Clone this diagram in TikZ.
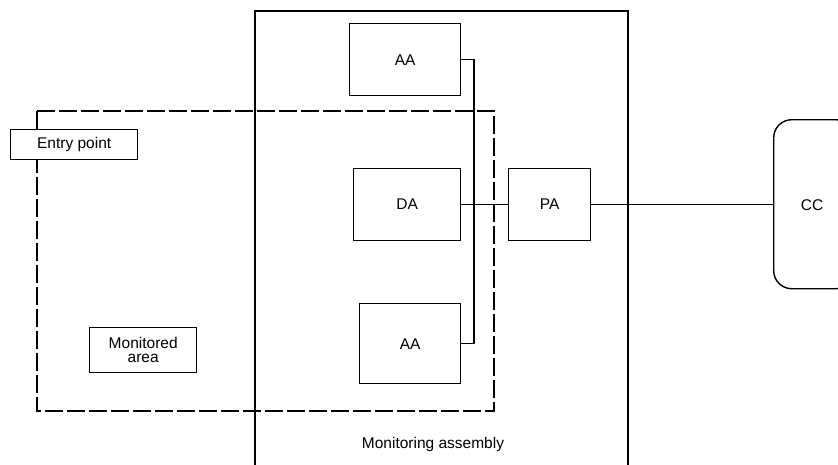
\documentclass[tikz,border=0pt]{standalone}
\usepackage{fontspec}
\setmainfont{Liberation Sans}
\begin{document}
\begin{tikzpicture}[x=1pt,y=-1pt,
  line width=1.4pt,
  txt/.style={font=\fontsize{15.5}{15.5}\selectfont},
  unit/.style={draw, rectangle, inner sep=0pt, txt},
  wire/.style={line width=1.4pt},
  zone/.style={line width=1.4pt, dash pattern=on 18pt off 4pt}]
  \clip (0,0) rectangle (838,464);
  \fill[white] (0,0) rectangle (838,464);

  % monitored zone (dashed)
  \draw[zone] (37,111) rectangle (494,411);

  % monitoring assembly, open at the bottom
  \draw (255,470) -- (255,11) -- (628,11) -- (628,470);
  \node[txt] (ma) at (433,444) {Monitoring assembly};

  % units
  \node[unit, fill=white, minimum width=127pt, minimum height=30pt, anchor=north west] (entry) at (10,129) {Entry point};
  \node[unit, minimum width=107pt, minimum height=45pt, align=center, anchor=north west, font=\fontsize{15.5}{14.5}\selectfont] (area) at (89,327) {Monitored\\area};
  \node[unit, minimum width=111pt, minimum height=72pt, anchor=north west] (aa1) at (349,23) {AA};
  \node[unit, minimum width=107pt, minimum height=72pt, anchor=north west] (da) at (353,167.5) {DA};
  \node[unit, minimum width=101pt, minimum height=80pt, anchor=north west] (aa2) at (359,303) {AA};
  \node[unit, minimum width=82pt, minimum height=72pt, anchor=north west] (pa) at (508,167.5) {PA};
  \node[unit, minimum width=80pt, minimum height=169pt, rounded corners=18pt, anchor=north west] (cc) at (773,119) {};
  \node[txt] (cclabel) at (812,205) {CC};

  % bus joining the alarm units
  \coordinate (btop) at (474,59.5);
  \coordinate (bbot) at (474,343.5);
  \draw[wire] (aa1.east |- btop) -- (btop) -- (bbot) -- (aa2.east |- bbot);
  \draw[wire] (da.east) -- (pa.west);
  \draw[wire] (pa.east) -- (pa.east -| cc.west);
\end{tikzpicture}
\end{document}
